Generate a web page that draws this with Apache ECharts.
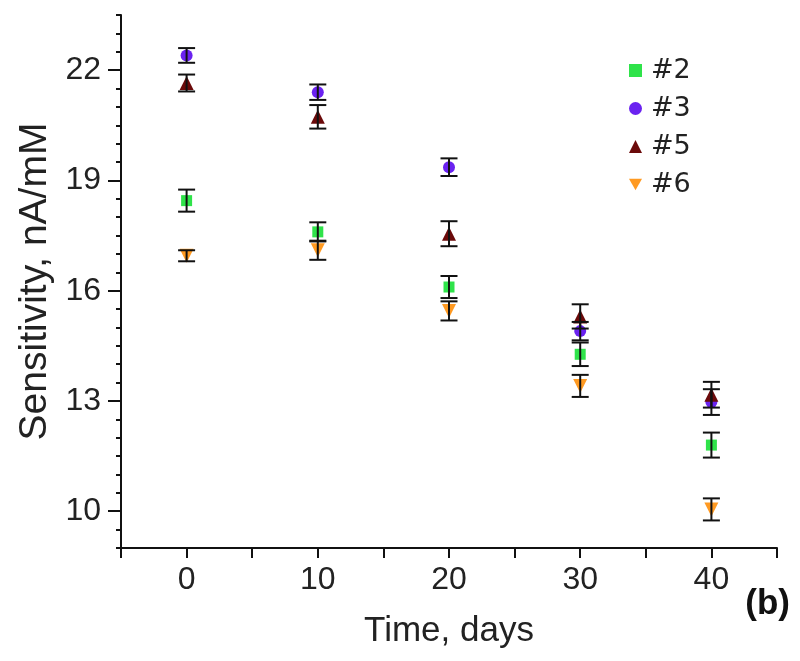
<!DOCTYPE html>
<html>
<head>
<meta charset="utf-8">
<script src="https://cdn.jsdelivr.net/npm/echarts@6/dist/echarts.min.js"></script>
<style>
html,body{margin:0;padding:0;background:#fff;}
#c{width:800px;height:661px;}
</style>
</head>
<body>
<div id="c"></div>
<script>
// ---- data ----
var days = [0, 10, 20, 30, 40];
var s2 = [18.45, 17.6, 16.1, 14.27, 11.8];
var e2 = [0.3, 0.26, 0.3, 0.32, 0.34];
var s3 = [22.4, 21.4, 19.36, 14.9, 12.97];
var e3 = [0.2, 0.21, 0.24, 0.25, 0.35];
var s5 = [21.65, 20.73, 17.55, 15.3, 13.17];
var e5 = [0.23, 0.32, 0.34, 0.33, 0.35];
var s6 = [16.95, 17.1, 15.45, 13.41, 10.05];
var e6 = [0.15, 0.26, 0.26, 0.3, 0.3];
var yTickLabels = [10, 13, 16, 19, 22];
var xTickLabels = [0, 10, 20, 30, 40];

var FONT = '"Liberation Sans", Arial, sans-serif';
var TXT = '#222';
var DOWN_TRI = 'path://M0,0 L10,0 L5,8.66 Z';

var chart = echarts.init(document.getElementById('c'), null, {renderer: 'canvas'});

function pts(vals) { return days.map(function (d, i) { return [d, vals[i]]; }); }
function errs(vals, e) { return days.map(function (d, i) { return [d, vals[i] - e[i], vals[i] + e[i]]; }); }

function errSeries(vals, e) {
  return {
    type: 'custom',
    xAxisIndex: 0, yAxisIndex: 0,
    z: 5,
    silent: true,
    data: errs(vals, e),
    renderItem: function (params, api) {
      var x = api.value(0);
      var lo = api.coord([x, api.value(1)]);
      var hi = api.coord([x, api.value(2)]);
      var w = 8.5;
      var st = {stroke: '#111', lineWidth: 2};
      return {
        type: 'group',
        children: [
          {type: 'line', shape: {x1: lo[0], y1: lo[1], x2: hi[0], y2: hi[1]}, style: st},
          {type: 'line', shape: {x1: lo[0] - w, y1: lo[1], x2: lo[0] + w, y2: lo[1]}, style: st},
          {type: 'line', shape: {x1: hi[0] - w, y1: hi[1], x2: hi[0] + w, y2: hi[1]}, style: st}
        ]
      };
    }
  };
}

function scat(name, vals, symbol, size, color) {
  return {
    name: name, type: 'scatter', xAxisIndex: 0, yAxisIndex: 0,
    symbol: symbol, symbolSize: size,
    itemStyle: {color: color, opacity: 1},
    z: 3,
    data: pts(vals)
  };
}

var axisLineStyle = {color: '#111', width: 2};

var option = {
  animation: false,
  backgroundColor: '#fff',
  grid: {left: 121, right: 23, top: 15, bottom: 113, containLabel: false},
  legend: {
    orient: 'vertical',
    left: 624, top: 52,
    itemWidth: 13, itemHeight: 13, itemGap: 11,
    textStyle: {fontFamily: '"DejaVu Sans", sans-serif', fontSize: 27, color: TXT, padding: [0, 0, 0, 4]},
    data: ['#2', '#3', '#5', '#6']
  },
  xAxis: [{
    type: 'value', min: -5, max: 45, interval: 5,
    name: 'Time, days', nameLocation: 'middle', nameGap: 66,
    nameTextStyle: {fontFamily: FONT, fontSize: 35, color: TXT},
    axisLine: {show: true, onZero: false, lineStyle: axisLineStyle},
    axisTick: {show: true, length: 10, lineStyle: {color: '#111', width: 2}},
    axisLabel: {
      fontFamily: FONT, fontSize: 32, color: TXT, margin: 16,
      formatter: function (v) { return xTickLabels.indexOf(v) >= 0 ? String(v) : ''; }
    },
    splitLine: {show: false}
  }],
  yAxis: [{
    type: 'value', min: 9, max: 23.5, interval: 0.5, position: 'left',
    axisLine: {show: true, onZero: false, lineStyle: axisLineStyle},
    axisTick: {show: true, length: 5, lineStyle: {color: '#111', width: 2}},
    axisLabel: {show: false},
    splitLine: {show: false}
  }, {
    type: 'value', min: 9, max: 23.5, position: 'left',
    name: 'Sensitivity, nA/mM', nameLocation: 'middle', nameGap: 64,
    nameTextStyle: {fontFamily: FONT, fontSize: 39, color: TXT},
    axisLine: {show: false, onZero: false},
    axisTick: {show: true, length: 13, customValues: yTickLabels, lineStyle: {color: '#111', width: 2}},
    axisLabel: {fontFamily: FONT, fontSize: 32, color: TXT, margin: 20, customValues: yTickLabels},
    splitLine: {show: false}
  }],
  graphic: [{
    type: 'text', right: 10, top: 587,
    style: {text: '(b)', fontFamily: FONT, fontSize: 35, fontWeight: 'bold', fill: '#111'}
  }],
  series: [
    scat('#2', s2, 'rect', 11, '#2fe34a'),
    scat('#3', s3, 'circle', 12, '#6a22f0'),
    scat('#5', s5, 'triangle', 14, '#6b0a0a'),
    scat('#6', s6, DOWN_TRI, 14, '#ff9a22'),
    errSeries(s2, e2),
    errSeries(s3, e3),
    errSeries(s5, e5),
    errSeries(s6, e6)
  ]
};
chart.setOption(option);
</script>
</body>
</html>
